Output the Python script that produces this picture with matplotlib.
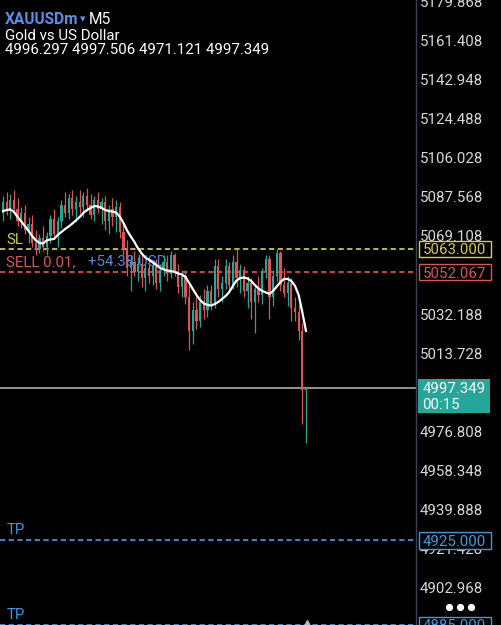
import numpy as np
import matplotlib
matplotlib.use('Agg')
import matplotlib.pyplot as plt
import matplotlib.transforms as mtransforms
from matplotlib.patches import Rectangle

# M5 candles, XAUUSDm
opens = [5080, 5085, 5081, 5086, 5082, 5076, 5080, 5072, 5075, 5066,
         5063, 5068, 5064, 5069, 5077, 5070, 5076, 5084, 5080, 5087,
         5082, 5085, 5083, 5088, 5084, 5079, 5086, 5082, 5085, 5076,
         5082, 5078, 5083, 5071, 5063, 5054, 5057, 5052, 5056, 5049,
         5054, 5050, 5055, 5047, 5053, 5057, 5051, 5060, 5052, 5045,
         5050, 5040, 5024, 5034, 5029, 5038, 5034, 5043, 5037, 5055,
         5044, 5047, 5055, 5046, 5057, 5049, 5053, 5043, 5047, 5038,
         5044, 5041, 5052, 5058, 5040, 5050, 5061, 5046, 5042, 5047,
         5035, 5033, 5024, 4996.297]
highs = [5088, 5090, 5089, 5091, 5087, 5083, 5084, 5078, 5079, 5072,
         5070, 5074, 5071, 5079, 5082, 5078, 5086, 5090, 5089, 5091,
         5088, 5091, 5090, 5092, 5089, 5088, 5090, 5087, 5088, 5084,
         5087, 5086, 5085, 5075, 5067, 5060, 5062, 5059, 5060, 5056,
         5059, 5057, 5058, 5056, 5060, 5060, 5062, 5061, 5056, 5053,
         5053, 5046, 5038, 5040, 5041, 5044, 5046, 5046, 5058, 5058,
         5050, 5058, 5057, 5060, 5063, 5056, 5055, 5050, 5049, 5046,
         5050, 5054, 5060, 5060, 5053, 5063, 5062, 5054, 5050, 5049,
         5040, 5037, 5028, 4997.506]
lows = [5076, 5079, 5077, 5080, 5074, 5073, 5070, 5066, 5064, 5060,
        5061, 5062, 5060, 5066, 5068, 5064, 5073, 5078, 5077, 5079,
        5076, 5080, 5078, 5081, 5077, 5076, 5080, 5075, 5072, 5070,
        5074, 5071, 5068, 5060, 5050, 5043, 5050, 5048, 5045, 5043,
        5047, 5046, 5044, 5043, 5050, 5048, 5049, 5050, 5042, 5040,
        5037, 5015, 5018, 5025, 5026, 5030, 5031, 5034, 5035, 5040,
        5038, 5044, 5043, 5044, 5045, 5042, 5040, 5035, 5030, 5023,
        5038, 5037, 5049, 5030, 5036, 5048, 5043, 5040, 5036, 5029,
        5029, 5020, 4980, 4971.121]
closes = [5085, 5081, 5086, 5082, 5076, 5080, 5072, 5075, 5066, 5063,
          5068, 5064, 5069, 5077, 5070, 5076, 5084, 5080, 5087, 5082,
          5085, 5083, 5088, 5084, 5079, 5086, 5082, 5085, 5076, 5082,
          5078, 5083, 5071, 5063, 5054, 5057, 5052, 5056, 5049, 5054,
          5050, 5055, 5047, 5053, 5057, 5051, 5060, 5052, 5045, 5050,
          5040, 5024, 5034, 5029, 5038, 5034, 5043, 5037, 5055, 5044,
          5047, 5055, 5046, 5057, 5049, 5053, 5043, 5047, 5038, 5044,
          5041, 5052, 5058, 5040, 5050, 5061, 5046, 5042, 5047, 5035,
          5033, 5024, 4996.297, 4997.349]
ma = [5080.9, 5081.4, 5081.7, 5080.5, 5078.1, 5076.0, 5073.8, 5071.5, 5069.1, 5067.0,
      5065.8, 5065.6, 5067.0, 5067.5, 5067.7, 5069.6, 5071.0, 5072.4, 5073.6, 5075.0,
      5076.5, 5078.1, 5080.0, 5081.4, 5082.4, 5083.3, 5083.1, 5082.4, 5081.4, 5080.9,
      5080.7, 5080.2, 5078.3, 5075.3, 5071.7, 5068.9, 5066.3, 5063.2, 5060.8, 5058.9,
      5057.8, 5056.6, 5055.4, 5054.0, 5053.3, 5052.8, 5052.5, 5052.1, 5051.4, 5050.9,
      5049.7, 5046.9, 5044.0, 5041.2, 5038.8, 5037.2, 5036.5, 5036.2, 5036.9, 5037.9,
      5039.3, 5040.7, 5042.6, 5045.5, 5048.1, 5049.2, 5049.5, 5049.0, 5047.8, 5045.9,
      5044.3, 5043.1, 5042.4, 5041.7, 5043.1, 5045.2, 5047.3, 5048.8, 5048.8, 5047.8,
      5045.5, 5041.2, 5033.1, 5024.2]

price_ticks = [5179.868, 5161.408, 5142.948, 5124.488, 5106.028, 5087.568,
               5069.108, 5032.188, 5013.728, 4976.808, 4958.348, 4939.888,
               4921.428, 4902.968]

sl_price = 5063.000
entry_price = 5052.067
current_price = 4997.349
tp_prices = [4925.000, 4885.000]
profit = "+54.38 USD"
ohlc_text = "4996.297 4997.506 4971.121 4997.349"

W, H = 501, 625
TEAL = '#26a69a'
RED = '#dc5454'
YEL = '#d8cc4a'
BLUE = '#3a9be0'
FONT = ['Roboto', 'DejaVu Sans']

fig = plt.figure(figsize=(W / 100, H / 100), dpi=100, facecolor='black')
ax = fig.add_axes([0, 0, 1, 1])
ax.set_facecolor('black')
ax.axis('off')
ax.set_xlim(-3 / 3.65, (W - 3) / 3.65)
ax.set_ylim(4885.0, 5180.8)

def fx(px):
    return px / W

def fy(py):
    return 1 - py / H

trans = mtransforms.blended_transform_factory(ax.transAxes, ax.transData)
chart_right = 416 / W

idx = np.arange(len(closes))
o = np.array(opens); c = np.array(closes)
colors = [TEAL if cc >= oo else RED for oo, cc in zip(o, c)]
ax.vlines(idx, lows, highs, colors=colors, lw=0.9, zorder=3)
body = np.maximum(np.abs(c - o), 0.4)
ax.bar(idx, body, bottom=np.minimum(o, c), width=0.62, color=colors, zorder=3)
ax.plot(idx, ma, color='white', lw=1.6, zorder=4)

# order lines
dash = (0, (3, 2))
ax.axhline(sl_price, xmin=0, xmax=chart_right, color=YEL, lw=1.25, ls=dash, zorder=2)
ax.axhline(entry_price, xmin=0, xmax=chart_right, color=RED, lw=1.25, ls=dash, zorder=2)
ax.axhline(current_price, xmin=0, xmax=chart_right, color='#a89a9a', lw=1.3, zorder=2)
for tp in tp_prices:
    ax.axhline(tp, xmin=0, xmax=chart_right, color=BLUE, lw=1.25, ls=dash, zorder=2)

ax.plot([chart_right, chart_right], [0, 1], transform=ax.transAxes, color='#3a4150', lw=1.0)

fs = 10.8
ax.text(fx(6), sl_price + 0.8, 'SL', transform=trans, color=YEL, fontsize=fs, family=FONT,
        va='bottom', zorder=1)
ax.text(fx(6), entry_price + 1.5, 'SELL 0.01,', transform=trans, color=RED, fontsize=fs,
        family=FONT, va='bottom', zorder=1)
ax.text(fx(88), entry_price + 1.5, profit, transform=trans, color='#4f8ae0', fontsize=fs,
        family=FONT, va='bottom', zorder=1)
for tp in tp_prices:
    ax.text(fx(7), tp + 1.5, 'TP', transform=trans, color=BLUE, fontsize=fs, family=FONT,
            va='bottom', zorder=1)

# price scale
for v in price_ticks:
    ax.text(fx(420), v, f'{v:.3f}', transform=trans, color='#d8d8d8', fontsize=fs,
            family=FONT, va='center_baseline', ha='left', zorder=2)

def price_box(price, color):
    ax.add_patch(Rectangle((fx(419), price - 3.9), 71.5 / W, 7.8, transform=trans,
                           facecolor='black', edgecolor=color, lw=1.0, zorder=5))
    ax.text(fx(422.5), price, f'{price:.3f}', transform=trans, color=color, fontsize=fs,
            family=FONT, va='center_baseline', ha='left', zorder=6)

price_box(sl_price, YEL)
price_box(entry_price, RED)
for tp in tp_prices:
    price_box(tp, BLUE)

ax.add_patch(Rectangle((fx(417.7), current_price - 11.9), 72.3 / W, 15.8, transform=trans,
                       facecolor=TEAL, edgecolor='none', zorder=5))
ax.text(fx(422.5), current_price, f'{current_price:.3f}', transform=trans, color='white',
        fontsize=fs, family=FONT, va='center_baseline', ha='left', zorder=6)
ax.text(fx(422.5), current_price - 7.7, '00:15', transform=trans, color='white',
        fontsize=fs, family=FONT, va='center_baseline', ha='left', zorder=6)

# "more" menu dots
ax.plot([fx(449), fx(460), fx(471)], [fy(607)] * 3, ls='none', marker='o', ms=4.2,
        color='white', transform=ax.transAxes, clip_on=False, zorder=6)

# header
fig.text(fx(5), fy(18), 'XAUUSDm', color='#5b8ee6', fontsize=11.2, fontweight='bold',
         family=FONT, va='center_baseline')
fig.text(fx(80), fy(18), '▾', color='#5b8ee6', fontsize=8, family=FONT, va='center_baseline')
fig.text(fx(89), fy(18), 'M5', color='white', fontsize=11.2, family=FONT, va='center_baseline')
fig.text(fx(5), fy(35), 'Gold vs US Dollar', color='white', fontsize=fs, family=FONT,
         va='center_baseline')
fig.text(fx(5), fy(49), ohlc_text, color='white', fontsize=fs, family=FONT,
         va='center_baseline')

ax.plot([fx(307)], [0.004], marker='^', ms=5, color='#bbbbbb',
        transform=ax.transAxes, clip_on=False)

fig.savefig('out.png', dpi=100, facecolor='black')
